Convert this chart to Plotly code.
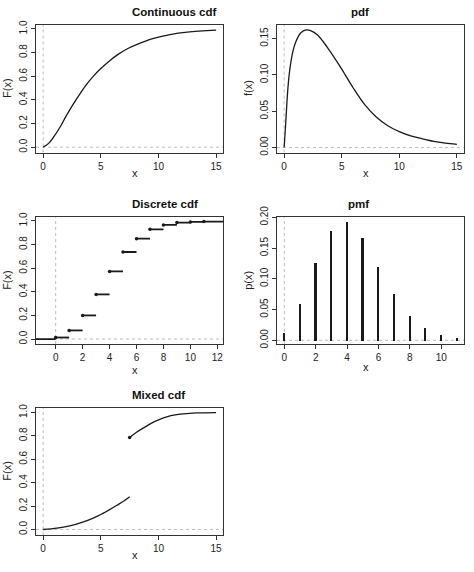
import plotly.graph_objects as go

# DANE

cont_x = [0, 0.45, 0.9, 1.5, 2.0, 2.65, 3.25, 3.8, 4.4, 5.0, 5.75, 6.5, 7.35, 8.1, 9.5, 11.0, 12.5, 15.0]
cont_F = [0, 0.03, 0.085, 0.175, 0.265, 0.37, 0.46, 0.535, 0.605, 0.665, 0.73, 0.785, 0.835, 0.868, 0.918, 0.952, 0.973, 0.99]

pdf_x = [0, 0.15, 0.3, 0.45, 0.7, 1.0, 1.45, 1.9, 2.3, 2.9, 3.75, 4.6, 5.0, 6.0, 7.0, 8.0, 9.0, 10.0, 11.0, 12.0, 13.0, 14.0, 15.0]
pdf_y = [0, 0.037, 0.076, 0.102, 0.128, 0.145, 0.158, 0.162, 0.161, 0.155, 0.138, 0.118, 0.108, 0.082, 0.059,
         0.042, 0.030, 0.022, 0.016, 0.012, 0.0085, 0.0062, 0.0045]

disc_x = [0, 1, 2, 3, 4, 5, 6, 7, 8, 9, 10, 11]
disc_F = [0.013, 0.073, 0.200, 0.378, 0.573, 0.737, 0.850, 0.929, 0.966, 0.986, 0.992, 0.995]

pmf_x = [0, 1, 2, 3, 4, 5, 6, 7, 8, 9, 10, 11]
pmf_p = [0.012, 0.059, 0.126, 0.179, 0.193, 0.167, 0.119, 0.075, 0.040, 0.020, 0.0092, 0.0038]

mix_x1 = [0, 1.2, 2.3, 3.5, 4.35, 5.0, 5.5, 6.4, 7.0, 7.5]
mix_F1 = [0, 0.011, 0.031, 0.066, 0.098, 0.128, 0.155, 0.207, 0.243, 0.28]
mix_x2 = [7.5, 8.1, 9.0, 9.85, 11.0, 12.2, 13.3, 15.0]
mix_F2 = [0.786, 0.831, 0.886, 0.931, 0.971, 0.989, 0.997, 1.0]

titles = ["Continuous cdf", "pdf", "Discrete cdf", "pmf", "Mixed cdf"]
ylabels = ["F(x)", "f(x)", "F(x)", "p(x)", "F(x)"]

W, H = 474, 572
FONT = "Liberation Sans"
LINE = "#1a1a1a"
GRAY = "#bdbdbd"

# ramki w pikselach: lewa, prawa, góra, dół
boxes = [
    (36, 223, 24.5, 152.5),
    (277, 464, 24.5, 152.5),
    (36, 223, 216.7, 344),
    (277, 464, 216.7, 344),
    (36, 223, 407.5, 535),
]
xlab_gap = [20.5, 20.5, 25.5, 23, 20]


def px(v):
    return v / W


def py(v):
    return 1 - v / H


fig = go.Figure()

# 1. ciągła dystrybuanta
fig.add_trace(go.Scatter(x=cont_x, y=cont_F, mode="lines", line=dict(color=LINE, width=1.3, shape="spline"),
                         xaxis="x", yaxis="y"))

# 2. gęstość
fig.add_trace(go.Scatter(x=pdf_x, y=pdf_y, mode="lines", line=dict(color=LINE, width=1.3, shape="spline"),
                         xaxis="x2", yaxis="y2"))

# 3. dyskretna dystrybuanta - schodki
sx, sy = [-3, disc_x[0], None], [0, 0, None]
for i in range(len(disc_x)):
    nxt = disc_x[i + 1] if i + 1 < len(disc_x) else 14
    sx += [disc_x[i], nxt, None]
    sy += [disc_F[i], disc_F[i], None]
fig.add_trace(go.Scatter(x=sx, y=sy, mode="lines", line=dict(color=LINE, width=1.8),
                         xaxis="x3", yaxis="y3"))
fig.add_trace(go.Scatter(x=disc_x, y=disc_F, mode="markers", marker=dict(color=LINE, size=3.5),
                         xaxis="x3", yaxis="y3"))

# 4. funkcja prawdopodobieństwa
fig.add_trace(go.Bar(x=pmf_x, y=pmf_p, width=0.11, marker=dict(color=LINE, line=dict(width=0)),
                     xaxis="x4", yaxis="y4"))

# 5. mieszana dystrybuanta
fig.add_trace(go.Scatter(x=mix_x1, y=mix_F1, mode="lines", line=dict(color=LINE, width=1.3, shape="spline"),
                         xaxis="x5", yaxis="y5"))
fig.add_trace(go.Scatter(x=mix_x2, y=mix_F2, mode="lines", line=dict(color=LINE, width=1.3, shape="spline"),
                         xaxis="x5", yaxis="y5"))
fig.add_trace(go.Scatter(x=mix_x2[:1], y=mix_F2[:1], mode="markers", marker=dict(color=LINE, size=3.5),
                         xaxis="x5", yaxis="y5"))

xranges = [[-0.62, 15.6], [-0.62, 15.62], [-1.46, 12.42], [-0.47, 11.45], [-0.62, 15.6]]
yranges = [[-0.045, 1.038], [-0.0068, 0.1694], [-0.042, 1.036], [-0.006, 0.201], [-0.047, 1.043]]
xticks = [[0, 5, 10, 15], [0, 5, 10, 15], [0, 2, 4, 6, 8, 10, 12], [0, 2, 4, 6, 8, 10], [0, 5, 10, 15]]
yticks = [[0, 0.2, 0.4, 0.6, 0.8, 1.0], [0, 0.05, 0.10, 0.15], [0, 0.2, 0.4, 0.6, 0.8, 1.0],
          [0, 0.05, 0.10, 0.15, 0.20], [0, 0.2, 0.4, 0.6, 0.8, 1.0]]
yfmt = [".1f", ".2f", ".1f", ".2f", ".1f"]

common = dict(showline=True, mirror=True, linecolor="#333", linewidth=1, ticks="outside", ticklen=4,
              tickcolor="#333", showgrid=False, zeroline=False, automargin=False,
              tickfont=dict(family=FONT, size=10, color="#222"))

layout = dict(template="none", width=W, height=H, margin=dict(l=0, r=0, t=0, b=0, pad=0),
              showlegend=False, plot_bgcolor="white", paper_bgcolor="white", bargap=0)
shapes, annotations = [], []

for i, (l, r, t, b) in enumerate(boxes):
    n = "" if i == 0 else str(i + 1)
    layout["xaxis" + n] = dict(common, domain=[px(l), px(r)], range=xranges[i], tickvals=xticks[i],
                               anchor="y" + n)
    layout["yaxis" + n] = dict(common, domain=[py(b), py(t)], range=yranges[i], tickvals=yticks[i],
                               tickformat=yfmt[i], tickangle=-90, anchor="x" + n)
    # szare kropkowane linie x=0, y=0
    shapes.append(dict(type="line", xref="x" + n, yref="y" + n + " domain", x0=0, x1=0, y0=0, y1=1,
                       line=dict(color=GRAY, width=1, dash="dot"), layer="below"))
    shapes.append(dict(type="line", xref="x" + n + " domain", yref="y" + n, x0=0, x1=1, y0=0, y1=0,
                       line=dict(color=GRAY, width=1, dash="dot"), layer="below"))
    cx = px((l + r) / 2)
    annotations.append(dict(text="<b>" + titles[i] + "</b>", x=cx, y=py(t - 13), xref="paper",
                            yref="paper", yanchor="middle", showarrow=False,
                            font=dict(family=FONT, size=11.5, color="#111")))
    annotations.append(dict(text="x", x=cx, y=py(b + xlab_gap[i]), xref="paper", yref="paper",
                            yanchor="middle", showarrow=False, font=dict(family=FONT, size=11, color="#222")))
    annotations.append(dict(text=ylabels[i], x=px(l - 28.5), y=py((t + b) / 2), xref="paper",
                            yref="paper", xanchor="center", yanchor="middle", textangle=-90, showarrow=False,
                            font=dict(family=FONT, size=11, color="#222")))

layout["shapes"] = shapes
layout["annotations"] = annotations
fig.update_layout(layout)

# body ma domyślnie 8 px marginesu - zerujemy, żeby figura zaczynała się w rogu okna
fig.write_html("out.html", config={"displayModeBar": False},
               post_script="document.body.style.margin = '0px';")
